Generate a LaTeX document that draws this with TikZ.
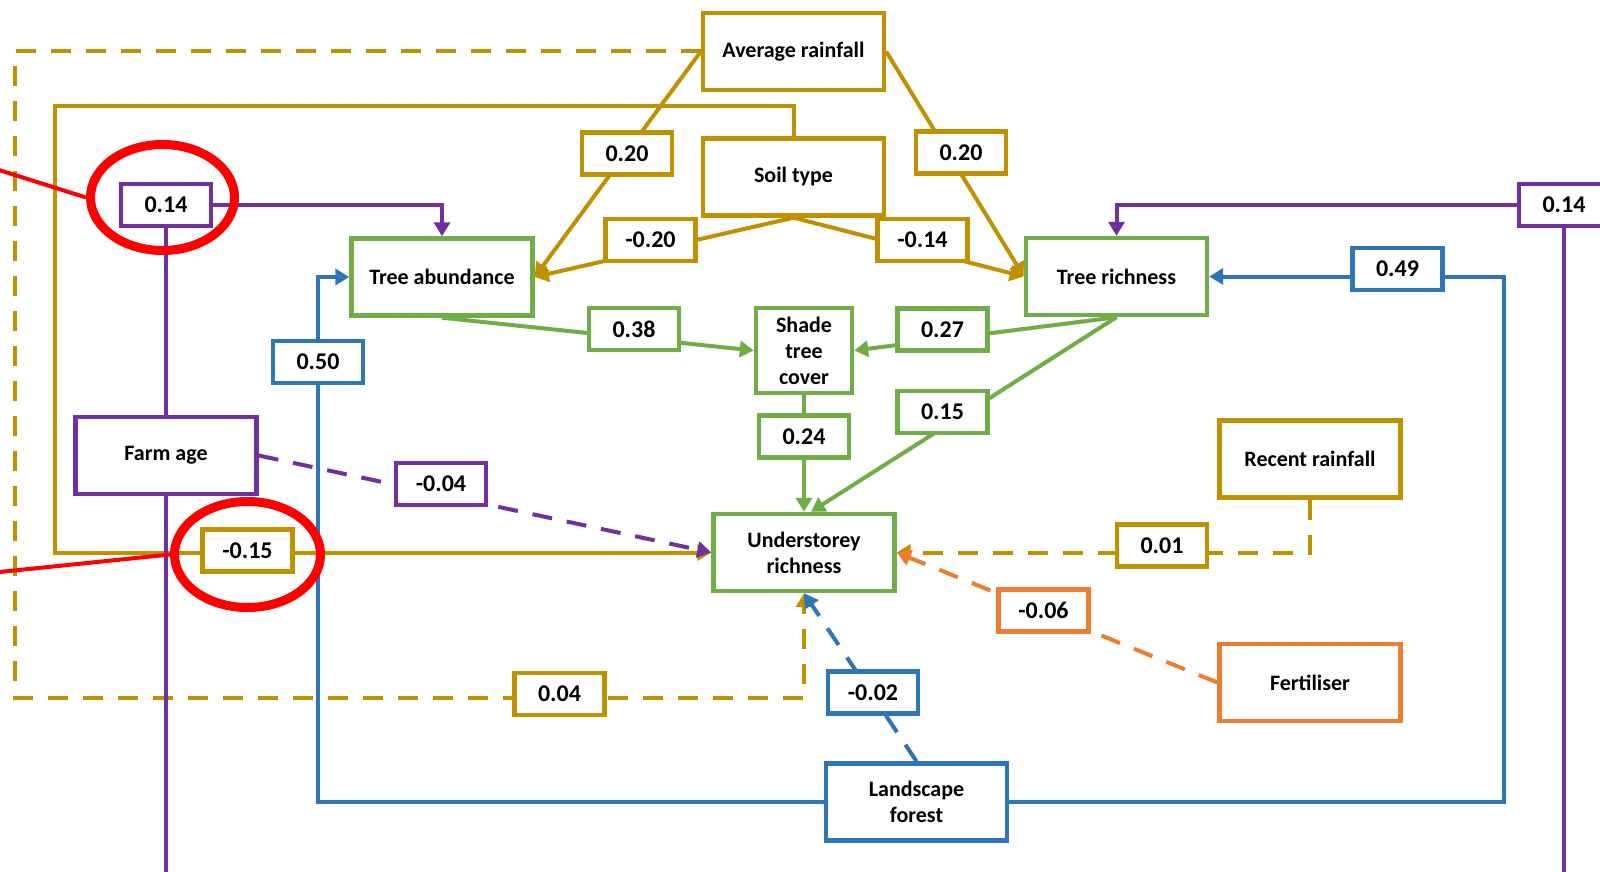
\documentclass[tikz,border=0pt]{standalone}
\usepackage{fontspec}
\setmainfont{Carlito}
\usetikzlibrary{arrows.meta,backgrounds,shapes.geometric}
\definecolor{rainGold}{RGB}{191,144,0}
\definecolor{ageViolet}{RGB}{112,48,160}
\definecolor{treeGreen}{RGB}{112,173,71}
\definecolor{forestBlue}{RGB}{46,117,182}
\definecolor{fertOrange}{RGB}{237,125,49}

\begin{document}
\begin{tikzpicture}[x=0.5pt,y=-0.5pt,
    varbox/.style={draw=#1, line width=2.2pt, fill=white, minimum width=90.5pt, minimum height=38.5pt, inner sep=1pt, align=center, font=\fontsize{11}{13}\selectfont\bfseries},
    coef/.style={draw=#1, line width=2.2pt, fill=white, minimum width=45pt, minimum height=21pt, inner sep=1pt, font=\fontsize{12}{14}\selectfont\bfseries},
    link/.style={draw=#1, line width=2pt, -{Triangle[length=7pt,width=8pt]}},
    weak/.style={dash pattern=on 10pt off 7.5pt},
    ring/.style={draw=red, line width=4.5pt, ellipse, inner sep=0pt}]
    \useasboundingbox (0,0) rectangle (1600,872);

    % variables
    \node[varbox=rainGold] (avgrain) at (793.5,51.5) {Average rainfall};
    \node[varbox=rainGold] (soil) at (793.5,177) {Soil type};
    \node[varbox=treeGreen] (treeab) at (442,277) {Tree abundance};
    \node[varbox=treeGreen] (treerich) at (1116.5,276.5) {Tree richness};
    \node[varbox=treeGreen, minimum width=48pt, minimum height=42.5pt] (shade) at (804,350.5) {Shade\\tree\\cover};
    \node[varbox=treeGreen] (under) at (804,552.5) {Understorey\\richness};
    \node[varbox=ageViolet] (farmage) at (166,455.5) {Farm age};
    \node[varbox=rainGold] (recent) at (1310,459) {Recent rainfall};
    \node[varbox=fertOrange] (fert) at (1310,682.5) {Fertiliser};
    \node[varbox=forestBlue] (landscape) at (916.5,802) {Landscape\\forest};

    % path coefficients
    \node[coef=rainGold] (c020a) at (627,153.5) {0.20};
    \node[coef=rainGold] (c020b) at (961,152.5) {0.20};
    \node[coef=rainGold] (cm020) at (650.5,240) {-0.20};
    \node[coef=rainGold] (cm014) at (922.5,240) {-0.14};
    \node[coef=ageViolet] (c014a) at (166,205) {0.14};
    \node[coef=ageViolet] (c014b) at (1564,205) {0.14};
    \node[coef=forestBlue] (c049) at (1397.5,269) {0.49};
    \node[coef=treeGreen] (c038) at (634,329) {0.38};
    \node[coef=treeGreen] (c027) at (942.5,329.5) {0.27};
    \node[coef=forestBlue] (c050) at (318,362) {0.50};
    \node[coef=treeGreen] (c024) at (804,436.5) {0.24};
    \node[coef=treeGreen] (c015) at (942.5,412) {0.15};
    \node[coef=ageViolet] (cm004) at (441,484) {-0.04};
    \node[coef=rainGold] (c001) at (1162,545.5) {0.01};
    \node[coef=rainGold] (cm015) at (247.5,550.5) {-0.15};
    \node[coef=fertOrange] (cm006) at (1043.5,610.5) {-0.06};
    \node[coef=rainGold] (c004) at (559.5,694) {0.04};
    \node[coef=forestBlue] (cm002) at (873,692.5) {-0.02};

    \coordinate (soilturn) at (55,106);
    \coordinate (rainturn) at (15,698);
    \coordinate (blueturn) at (1504,802);
    \coordinate (offbottom) at (0,900);

    \begin{scope}[on background layer]
        \fill[white] (0,0) rectangle (1600,872);
        \draw[link=rainGold] (avgrain.west) -- (treeab.east);
        \draw[link=rainGold] (avgrain.east) -- (treerich.west);
        \draw[link=rainGold] (soil.south) -- (treeab.east);
        \draw[link=rainGold] (soil.south) -- (treerich.west);
        \draw[link=rainGold] (soil.north) |- (soilturn) |- (under.west); % long way round
        \draw[link=rainGold, weak] (avgrain.west) -| (rainturn) -| (under.south);
        \draw[link=rainGold, weak] (recent.south) |- (under.east);

        \draw[link=ageViolet] (farmage.north) -- (c014a.center) -| (treeab.north);
        \draw[link=ageViolet] (farmage.south) -- (farmage.south |- offbottom) -| (c014b.center) -| (treerich.north); % leaves the page
        \draw[link=ageViolet, weak] (farmage.east) -- (under.west);

        \draw[link=forestBlue] (landscape.west) -| (c050.center) |- (treeab.west);
        \draw[link=forestBlue] (landscape.east) -- (blueturn) |- (treerich.east);
        \draw[link=forestBlue, weak] (landscape.north) -- (under.south);

        \draw[link=fertOrange, weak] (fert.west) -- (under.east);

        \draw[link=treeGreen] (treeab.south) -- (shade.west);
        \draw[link=treeGreen] (treerich.south) -- (shade.east);
        \draw[link=treeGreen] (shade.south) -- (under.north);
        \draw[link=treeGreen] (treerich.south) -- ([xshift=3.5pt]under.north);
    \end{scope}

    % highlights
    \node[ring, minimum width=72pt, minimum height=53pt] (ringa) at (162.5,197.5) {};
    \node[ring, minimum width=73pt, minimum height=53pt] (ringb) at (247.5,554.5) {};
    \coordinate (redfroma) at (-20,164);
    \coordinate (redfromb) at (-20,574);
    \draw[red, line width=2pt] (redfroma) -- (ringa.west);
    \draw[red, line width=2pt] (redfromb) -- (ringb.west);
\end{tikzpicture}
\end{document}
